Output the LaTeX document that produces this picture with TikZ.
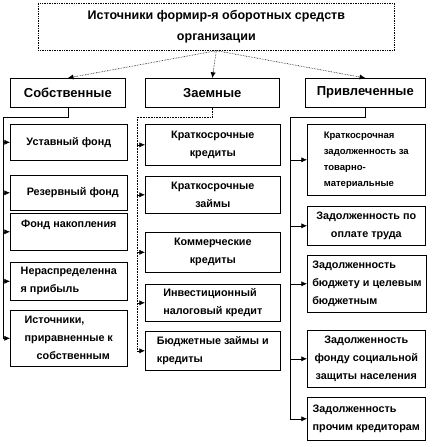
\documentclass[tikz,border=0pt]{standalone}
\usepackage{fontspec}
\setmainfont{Liberation Sans}
\usetikzlibrary{arrows.meta, positioning, calc}
\tikzset{
	srcbox/.style={rectangle, draw=black, densely dotted, line width=0.7pt, align=center, anchor=north west, inner sep=2pt, font=\bfseries\fontsize{12.5}{21}\selectfont},
	catbox/.style={rectangle, draw=black, line width=0.6pt, align=center, anchor=north west, minimum height=29pt, inner sep=2pt, font=\bfseries\fontsize{13}{14}\selectfont},
	itembox/.style={rectangle, draw=black, line width=0.6pt, align=left, anchor=north west, inner xsep=5pt, inner ysep=2pt, font=\bfseries\fontsize{10.8}{18}\selectfont},
	tree/.style={line width=0.6pt, draw=black},
	dottree/.style={line width=0.6pt, draw=black, densely dotted},
	arrow/.style={-{Latex[length=2mm, width=1.8mm]}, line width=0.6pt, draw=black},
	dotarrow/.style={-{Latex[length=2mm, width=1.8mm]}, line width=0.6pt, draw=black, densely dotted},
}
\begin{document}
\begin{tikzpicture}[x=1pt, y=-1pt]
		\useasboundingbox (0,0) rectangle (436,447);
		\node[srcbox, minimum width=356pt, minimum height=47pt] (src) at (38,3) {Источники формир-я оборотных средств\\организации};
		\node[catbox, minimum width=115pt] (sobst) at (10,78) {Собственные};
		\node[catbox, minimum width=134pt] (zaem) at (145,78) {Заемные};
		\node[catbox, minimum width=120pt] (privl) at (305,78) {Привлеченные};
		% own sources
		\node[itembox, minimum width=117pt, minimum height=36pt] (ust) at (10,124) {Уставный фонд};
		\node[itembox, minimum width=117pt, minimum height=35pt, align=center] (rez) at (10,175) {\hspace*{8pt}Резервный фонд};
		\node[itembox, minimum width=117pt, minimum height=37pt, text depth=16pt] (nakop) at (10,213) {Фонд накопления};
		\node[itembox, minimum width=117pt, minimum height=38pt] (nerasp) at (10,262) {Нераспределенна\\я прибыль};
		\node[itembox, minimum width=117pt, minimum height=56pt] (priravn) at (10,310) {Источники,\\приравненные к\\\hspace*{12pt}собственным};
		% borrowed sources
		\node[itembox, minimum width=135pt, minimum height=41pt, align=center] (kredit) at (145,124) {Краткосрочные\\кредиты};
		\node[itembox, minimum width=135pt, minimum height=37pt, align=center] (zaim) at (145,176) {Краткосрочные\\займы};
		\node[itembox, minimum width=135pt, minimum height=40pt, align=center] (kommerc) at (145,232) {Коммерческие\\кредиты};
		\node[itembox, minimum width=135pt, minimum height=37pt] (invest) at (145,284) {Инвестиционный\\налоговый кредит};
		\node[itembox, minimum width=135pt, minimum height=39pt] (budzaim) at (145,331) {Бюджетные займы и\\кредиты};
		% attracted sources
		\node[itembox, minimum width=118pt, minimum height=71pt, font=\bfseries\fontsize{9.5}{16}\selectfont] (tovar) at (307,124) {Краткосрочная\\задолженность за\\товарно-\\материальные};
		\node[itembox, minimum width=118pt, minimum height=39pt, align=center] (trud) at (307,206) {Задолженность по\\оплате труда};
		\node[itembox, minimum width=118pt, minimum height=57pt] (budzh) at (307,255) {Задолженность\\бюджету и целевым\\бюджетным};
		\node[itembox, minimum width=118pt, minimum height=57pt, align=center] (socfond) at (307,330) {Задолженность\\фонду социальной\\защиты населения};
		\node[itembox, minimum width=118pt, minimum height=43pt] (proch) at (307,397) {Задолженность\\прочим кредиторам};
		\coordinate (sobstbus) at (3,117);
		\coordinate (zaembus) at (137,117);
		\coordinate (privlbus) at (290,117);
		\draw[dotarrow] (src.south) -- (sobst.north);
		\draw[dotarrow] (src.south) -- (zaem.north);
		\draw[dotarrow] (src.south) -- (privl.north);
		\draw[tree] (sobst.south) |- (sobstbus) -- (sobstbus |- priravn.west);
		\draw[dottree] (zaem.south) |- (zaembus) -- (zaembus |- budzaim.west);
		\draw[tree] (privl.south) |- (privlbus) -- (privlbus |- proch.west);
		\foreach \item in {ust, rez, nakop, nerasp, priravn}
			\draw[arrow] (sobstbus |- \item.west) -- (\item.west);
		\foreach \item in {kredit, zaim, kommerc, invest, budzaim}
			\draw[arrow] (zaembus |- \item.west) -- (\item.west);
		\foreach \item in {tovar, trud, budzh, socfond, proch}
			\draw[arrow] (privlbus |- \item.west) -- (\item.west);
	\end{tikzpicture}
\end{document}
